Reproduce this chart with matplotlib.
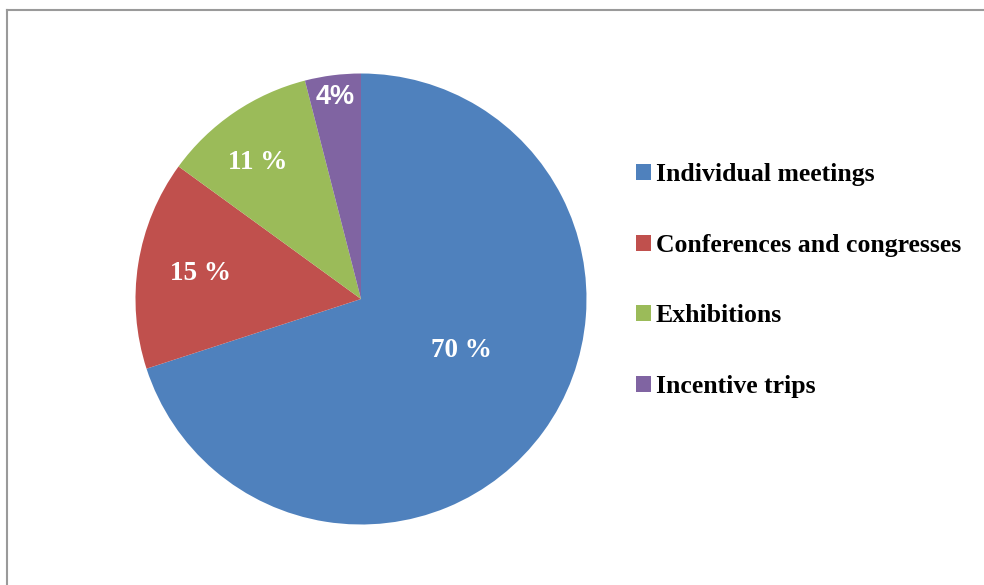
import matplotlib
matplotlib.use("Agg")
import matplotlib.pyplot as plt
from matplotlib.patches import Patch
from matplotlib.lines import Line2D
import numpy as np

categories = ["Individual meetings", "Conferences and congresses", "Exhibitions", "Incentive trips"]
shares = [70, 15, 11, 4]
label_texts = ["70 %", "15 %", "11 %", "4%"]
colors = ["#4F81BD", "#C0504D", "#9BBB59", "#8064A2"]

W, H = 984, 585
fig = plt.figure(figsize=(W / 100, H / 100), dpi=100)
fig.patch.set_facecolor("white")

# chart area border (top and left edges)
fig.add_artist(Line2D([7 / W, 1], [1 - 10 / H, 1 - 10 / H], color="#9a9a9a", lw=1.5))
fig.add_artist(Line2D([7 / W, 7 / W], [0, 1 - 10 / H], color="#9a9a9a", lw=1.5))

cx, cy, R = 361, 299, 225.5
ax = fig.add_axes([(cx - R) / W, (H - cy - R) / H, 2 * R / W, 2 * R / H])
wedges, _ = ax.pie(shares, colors=colors, startangle=90, counterclock=False,
                   radius=1.0, wedgeprops=dict(linewidth=0))
ax.set_xlim(-1, 1)
ax.set_ylim(-1, 1)
ax.set_aspect("equal")
ax.axis("off")

# label placement: radial distance and angular shift from each wedge's middle
label_dist = [0.50, 0.72, 0.76, 0.905]
label_shift = [9, 0, 3, 0]
fonts = [["Liberation Serif"], ["Liberation Serif"], ["Liberation Serif"], ["Liberation Sans"]]
sizes = [19.5, 19.5, 19.5, 19.5]
for w, txt, d, s, fam, fs in zip(wedges, label_texts, label_dist, label_shift, fonts, sizes):
    mid = np.deg2rad((w.theta1 + w.theta2) / 2 + s)
    ax.text(d * np.cos(mid), d * np.sin(mid), txt, ha="center", va="center",
            color="white", fontweight="bold", fontsize=fs, family=fam)

handles = [Patch(facecolor=c, edgecolor="none") for c in colors]
fig.legend(handles, categories, loc="center left",
           bbox_to_anchor=(636 / W, 1 - 280.5 / H), frameon=False,
           prop=dict(family="Liberation Serif", weight="bold", size=18.5),
           labelspacing=1.86, handlelength=0.58, handleheight=0.58,
           handletextpad=0.2, borderpad=0, borderaxespad=0)

fig.savefig("out.png", dpi=100, facecolor="white")
